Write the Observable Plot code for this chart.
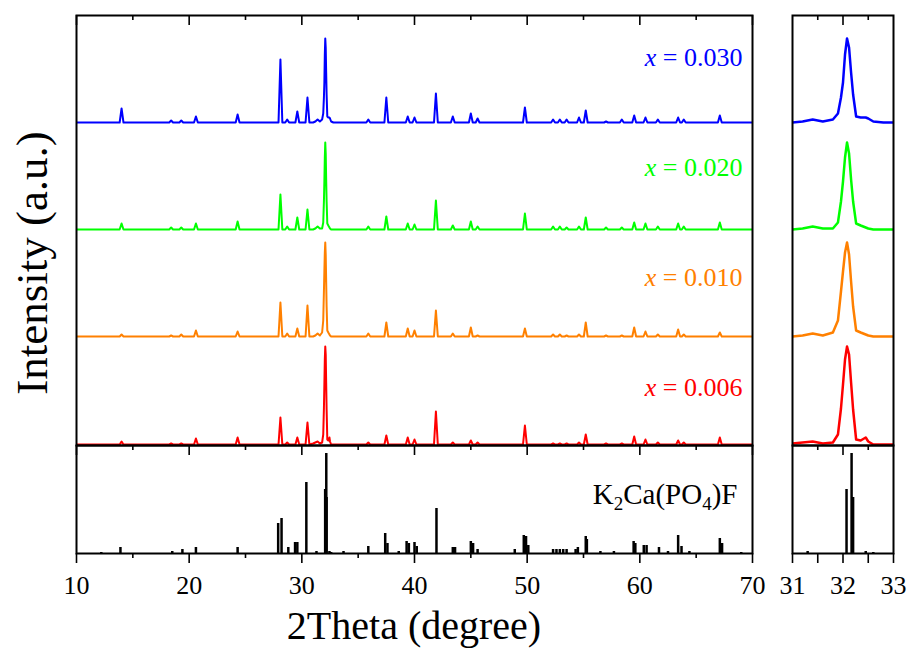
<!DOCTYPE html>
<html>
<head>
<meta charset="utf-8">
<script src="https://cdn.jsdelivr.net/npm/d3@7"></script>
<script src="https://cdn.jsdelivr.net/npm/@observablehq/plot@0.6"></script>
<style>
  html, body { margin: 0; padding: 0; background: #fff; }
  #chart { position: relative; width: 912px; height: 651px; background: #fff; overflow: hidden;
           font-family: "Liberation Serif", "Times New Roman", serif; }
</style>
</head>
<body>
<div id="chart"></div>
<script>
// ---------------- data ----------------
const twoThetaRange = [10, 70];
const zoomRange = [31, 33];

const seriesNames   = ["x = 0.006", "x = 0.010", "x = 0.020", "x = 0.030"];
const seriesColors  = ["#ff0000", "#ff8000", "#00ff00", "#0000ff"];
const seriesOffsets = [1, 109, 216, 323];   // vertical stacking shift (a.u.)

// diffraction peaks (2θ, degree) outside the zoom window
const peakTheta = [14.0, 18.4, 19.3, 20.6, 24.3, 28.1, 28.7, 29.6, 30.5, 35.9, 37.5, 39.4, 40.0, 41.9,
                   43.4, 45.0, 45.6, 49.8, 52.3, 52.9, 53.5, 54.6, 55.2, 57.0, 58.4, 59.5, 60.5, 61.6,
                   63.4, 63.9, 67.1];
const peakI_006 = [3, 1, 1, 6, 7, 27, 2, 7, 22, 2, 9, 7, 5, 33, 2, 4, 2, 19, 1, 1, 1, 2, 10, 1, 1, 8, 5, 2, 4, 2, 7];
const peakI_010 = [2, 1, 2, 6, 5, 34, 3, 8, 31, 3, 14, 8, 6, 26, 3, 9, 1, 8, 2, 2, 1, 2, 14, 1, 1, 9, 5, 2, 7, 2, 4];
const peakI_020 = [6, 2, 2, 6, 8, 35, 3, 12, 20, 3, 13, 6, 5, 29, 4, 8, 3, 16, 3, 3, 2, 3, 12, 2, 2, 7, 6, 3, 6, 3, 7];
const peakI_030 = [14, 2, 2, 6, 8, 63, 3, 11, 25, 3, 25, 6, 5, 29, 6, 9, 4, 15, 3, 3, 3, 5, 12, 1, 3, 7, 5, 3, 5, 3, 7];

// detailed profile inside the zoom window 31–33°
const zoomTheta = [31.0, 31.2, 31.4, 31.6, 31.8, 31.9, 31.96, 32.0, 32.04, 32.08, 32.12, 32.16, 32.2,
                   32.26, 32.35, 32.45, 32.5, 32.6, 32.8, 33.0];
const zoomI_006 = [1, 2, 3, 1, 2, 10, 36, 60, 85, 98, 90, 62, 35, 5, 4, 7, 3, 0, 0, 0];
const zoomI_010 = [0, 1, 3, 1, 4, 16, 45, 65, 84, 94, 82, 55, 30, 6, 4, 2, 1, 0, 0, 0];
const zoomI_020 = [0, 1, 3, 1, 1, 7, 28, 48, 72, 87, 76, 50, 28, 6, 4, 2, 1, 0, 0, 0];
const zoomI_030 = [0, 1, 3, 1, 3, 9, 25, 40, 68, 84, 75, 50, 28, 6, 5, 5, 4, 1, 0, 0];

// reference pattern K2Ca(PO4)F
const refLabel = "K2Ca(PO4)F";
const stickTheta = [12.2, 13.9, 18.5, 19.4, 20.6, 24.3, 27.9, 28.2, 28.8, 29.4, 29.6, 30.4, 31.3, 32.07, 32.17,
                    32.2, 32.45, 32.6, 33.7, 35.9, 37.4, 37.6, 38.6, 39.3, 39.5, 40.0, 40.2, 41.95, 43.4, 43.6,
                    45.0, 45.2, 45.6, 48.9, 49.7, 49.9, 50.1, 52.3, 52.6, 52.9, 53.2, 53.5, 54.3, 54.5, 55.2,
                    55.3, 56.5, 57.7, 59.45, 59.6, 60.35, 60.6, 61.7, 62.5, 63.4, 63.7, 64.4, 67.1, 67.3, 69.0];
const stickI = [1, 6, 2, 4, 6, 6, 30, 35, 6, 11, 11, 71, 2, 64, 100,
                56, 2, 1, 2, 7, 20, 10, 2, 12, 10, 11, 7, 45, 6, 6,
                12, 10, 4, 4, 18, 17, 8, 4, 4, 4, 4, 4, 4, 6, 17,
                14, 2, 2, 12, 10, 8, 8, 6, 2, 18, 7, 2, 15, 10, 1];

const majorTicksMain = [10, 20, 30, 40, 50, 60, 70];
const minorTicksMain = [15, 25, 35, 45, 55, 65];
const majorTicksZoom = [31, 32, 33];
const minorTicksZoom = [31.5, 32.5];

const xTitle = "2Theta (degree)";
const yTitle = "Intensity (a.u.)";

// ---------------- layout ----------------
const FONT = '"Liberation Serif", "Times New Roman", serif';
const W = {main: 676, zoom: 101};
const H = {top: 430, bottom: 108};
const POS = {mainLeft: 76, zoomLeft: 792, top: 15, mid: 445};
const TICK_MAJ = 10, TICK_MIN = 5;
const PEAK_HW = 0.17;
const topDomain = [0, 430];
const refDomain = [0, 108];
const LABEL_Y0 = 58, LABEL_STEP = 110;

const peakI = [peakI_006, peakI_010, peakI_020, peakI_030];
const zoomI = [zoomI_006, zoomI_010, zoomI_020, zoomI_030];

function seriesPoints(k) {
  const pts = [{x: twoThetaRange[0], y: 0}, {x: twoThetaRange[1], y: 0}];
  peakTheta.forEach((p, i) => {
    pts.push({x: p - PEAK_HW, y: 0}, {x: p, y: peakI[k][i]}, {x: p + PEAK_HW, y: 0});
  });
  zoomTheta.forEach((t, i) => pts.push({x: t, y: zoomI[k][i]}));
  pts.sort((a, b) => a.x - b.x);
  return pts.map(d => ({x: d.x, y: d.y + seriesOffsets[k]}));
}
const series = seriesNames.map((_, k) => seriesPoints(k));
const sticks = stickTheta.map((t, i) => ({x: t, h: stickI[i]}));

const baseStyle = {background: "transparent", overflow: "visible", fontFamily: FONT, fontSize: "26px", color: "black"};

function topTicks(majors, minors, h) {
  return [
    Plot.tickX(majors, {x: d => d, insetBottom: h - TICK_MAJ, stroke: "black", strokeWidth: 1.6}),
    Plot.tickX(minors, {x: d => d, insetBottom: h - TICK_MIN, stroke: "black", strokeWidth: 1.6})
  ];
}
function bottomAxis(majors, minors, labels) {
  return [
    Plot.axisX({ticks: majors, anchor: "bottom", tickSize: TICK_MAJ, tickPadding: 12, label: null,
                tickFormat: d => labels.includes(d) ? String(d) : "", fontSize: 26, stroke: "black", strokeWidth: 1.6, fill: "black"}),
    Plot.axisX({ticks: minors, anchor: "bottom", tickSize: TICK_MIN, label: null,
                tickFormat: () => "", stroke: "black", strokeWidth: 1.6})
  ];
}

// top-left: stacked measured patterns
const topMain = Plot.plot({
  width: W.main, height: H.top, margin: 0,
  x: {domain: twoThetaRange, axis: null},
  y: {domain: topDomain, axis: null},
  color: {type: "identity"},
  style: baseStyle,
  marks: [
    ...series.map((pts, k) => Plot.line(pts, {x: "x", y: "y", stroke: seriesColors[k], strokeWidth: 2, clip: true})),
    Plot.text(seriesNames, {text: d => d, y: (d, i) => LABEL_Y0 + i * LABEL_STEP, frameAnchor: "right", dx: -10,
                            textAnchor: "end", lineAnchor: "middle", fill: (d, i) => seriesColors[i],
                            fontSize: 26, fontFamily: FONT}),
    Plot.frame({stroke: "black", strokeWidth: 2}),
    ...topTicks(majorTicksMain, minorTicksMain, H.top)
  ]
});

// bottom-left: reference sticks
const refMain = Plot.plot({
  width: W.main, height: H.bottom + 60, marginTop: 0, marginLeft: 0, marginRight: 0, marginBottom: 60,
  x: {domain: twoThetaRange},
  y: {domain: refDomain, axis: null},
  style: baseStyle,
  marks: [
    Plot.ruleX(sticks, {x: "x", y1: 0, y2: "h", stroke: "black", strokeWidth: 2.5, clip: true}),
    Plot.text([refLabel], {text: d => d, y: 59, frameAnchor: "right", dx: -15, textAnchor: "end",
                           lineAnchor: "middle", fill: "black", fontSize: 29, fontFamily: FONT}),
    Plot.frame({stroke: "black", strokeWidth: 2}),
    ...topTicks(majorTicksMain, minorTicksMain, H.bottom),
    ...bottomAxis(majorTicksMain, minorTicksMain, majorTicksMain)
  ]
});

// top-right: zoom window
const topZoom = Plot.plot({
  width: W.zoom, height: H.top, margin: 0,
  x: {domain: zoomRange, axis: null},
  y: {domain: topDomain, axis: null},
  style: baseStyle,
  marks: [
    ...series.map((pts, k) => Plot.line(pts.filter(d => d.x >= zoomRange[0] && d.x <= zoomRange[1]),
                                        {x: "x", y: "y", stroke: seriesColors[k], strokeWidth: 2.5, clip: true})),
    Plot.frame({stroke: "black", strokeWidth: 2}),
    ...topTicks([32], minorTicksZoom, H.top)
  ]
});

// bottom-right: zoom of reference sticks
const refZoom = Plot.plot({
  width: W.zoom, height: H.bottom + 60, marginTop: 0, marginLeft: 0, marginRight: 0, marginBottom: 60,
  x: {domain: zoomRange},
  y: {domain: refDomain, axis: null},
  style: baseStyle,
  marks: [
    Plot.ruleX(sticks.filter(d => d.x >= zoomRange[0] && d.x <= zoomRange[1]),
               {x: "x", y1: 0, y2: "h", stroke: "black", strokeWidth: 2.5, clip: true}),
    Plot.frame({stroke: "black", strokeWidth: 2}),
    ...topTicks([32], minorTicksZoom, H.bottom),
    ...bottomAxis(majorTicksZoom.concat(minorTicksZoom).sort(), [], majorTicksZoom)
  ]
});

// rich text: italic variable / chemical subscripts
function richText(svg) {
  d3.select(svg).selectAll('g[aria-label="text"] text').each(function() {
    const s = this.textContent;
    const el = d3.select(this);
    el.text(null);
    if (s.startsWith("x ")) {
      el.append("tspan").attr("font-style", "italic").text("x");
      el.append("tspan").text(s.slice(1));
    } else {
      let shift = 0;
      s.split(/(\d+)/).filter(p => p.length).forEach(p => {
        const t = el.append("tspan");
        if (/^\d+$/.test(p)) {
          t.attr("font-size", 19).attr("dy", 6 - shift).text(p);
          shift = 6;
        } else {
          t.attr("dy", -shift).text(p);
          shift = 0;
        }
      });
    }
  });
}
richText(topMain);
richText(refMain);

const chart = document.getElementById("chart");
function place(svg, left, top) {
  svg.style.position = "absolute";
  svg.style.left = left + "px";
  svg.style.top = top + "px";
  svg.style.maxWidth = "none";
  chart.appendChild(svg);
}
place(topMain, POS.mainLeft, POS.top);
place(refMain, POS.mainLeft, POS.mid);
place(topZoom, POS.zoomLeft, POS.top);
place(refZoom, POS.zoomLeft, POS.mid);

// axis titles
const overlay = d3.create("svg")
  .attr("width", 912).attr("height", 651)
  .style("position", "absolute").style("left", "0px").style("top", "0px")
  .style("pointer-events", "none").style("overflow", "visible");
overlay.append("text")
  .attr("x", (POS.mainLeft + POS.mainLeft + W.main) / 2).attr("y", 639)
  .attr("text-anchor", "middle").attr("font-family", FONT).attr("font-size", 40).attr("fill", "black")
  .text(xTitle);
overlay.append("text")
  .attr("transform", "translate(47,263) rotate(-90)")
  .attr("text-anchor", "middle").attr("font-family", FONT).attr("font-size", 45).attr("fill", "black")
  .text(yTitle);
chart.appendChild(overlay.node());
</script>
</body>
</html>
